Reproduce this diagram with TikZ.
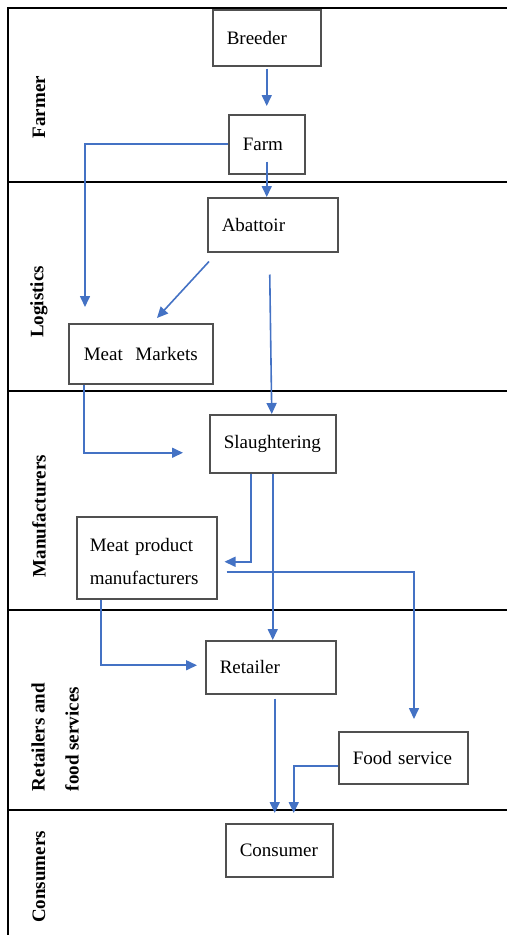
\documentclass[tikz,border=0pt]{standalone}
\usepackage{fontspec}
\setmainfont{Liberation Serif}
\usetikzlibrary{arrows.meta,calc}
\definecolor{flowblue}{HTML}{4472C4}
\definecolor{boxgray}{HTML}{505050}
\begin{document}
\begin{tikzpicture}[x=1pt,y=-1pt,
  stagebox/.style={draw=boxgray,line width=1.5pt,anchor=north west,align=left,
    inner xsep=14pt,inner ysep=0pt,font=\fontsize{19}{33}\selectfont},
  lanelabel/.style={rotate=90,align=left,font=\bfseries\fontsize{19}{34}\selectfont},
  flow/.style={draw=flowblue,line width=1.6pt,-{Triangle[length=11pt,width=10pt]}},
  lane/.style={line width=2.2pt,black}]
\useasboundingbox (0,0) rectangle (507,935);

% frame and lane separators
\draw[lane,line width=2.6pt] (8,935) -- (8,8) -- (507,8);
\foreach \yy in {182,391,610,810} \draw[lane] (8,\yy) -- (507,\yy);

% lane titles
\node[lanelabel] (lfarmer) at (39,107) {Farmer};
\node[lanelabel] (llogistics) at (39,302) {Logistics};
\node[lanelabel] (lmanuf) at (39,516) {Manufacturers};
\node[lanelabel] (lretail) at (55,737) {Retailers and\\food services};
\node[lanelabel] (lconsumer) at (39,877) {Consumers};

% stages
\node[stagebox,text width=80pt,minimum height=56pt] (breeder) at (212,9) {Breeder};
\node[stagebox,text width=48pt,minimum height=59pt] (farm) at (228,114) {Farm};
\node[stagebox,text width=102pt,minimum height=54pt] (abattoir) at (207,197) {Abattoir};
\node[stagebox,minimum height=60pt,inner xsep=15pt,text width=114pt] (markets) at (68,323) {Meat\ \ Markets};
\node[stagebox,text width=98pt,minimum height=58pt] (slaughter) at (209,414) {Slaughtering};
\node[stagebox,text width=114pt,inner xsep=13pt,minimum height=82pt] (meatprod) at (76,516) {\rule{0pt}{21pt}Meat product\\manufacturers};
\node[stagebox,text width=102pt,minimum height=53pt] (retailer) at (205,640) {Retailer};
\node[stagebox,text width=101pt,minimum height=52pt] (food) at (338,731) {Food service};
\node[stagebox,text width=79pt,minimum height=53pt] (consumer) at (225,823) {Consumer};

% flows
\draw[flow] ([yshift=-2pt]breeder.south) -- ([yshift=8pt]farm.north);
\draw[flow] ([yshift=13pt]farm.south) -- (farm.south |- abattoir.north);
\draw[flow] (farm.west) -| ([xshift=17pt,yshift=16pt]markets.north west);
\draw[flow] ([xshift=2pt,yshift=-9pt]abattoir.south west) -- ([xshift=89pt,yshift=5pt]markets.north west);
\draw[flow] ([xshift=-3pt,yshift=-22pt]abattoir.south) -- ([xshift=-1pt]slaughter.north);
\draw[flow] ([xshift=16pt]markets.south west) |- ([xshift=-26pt,yshift=-9pt]slaughter.west);
\draw[flow] ([xshift=42pt]slaughter.south west) |- ([xshift=7pt,yshift=-4pt]meatprod.east);
\draw[flow] (slaughter.south) -- (slaughter.south |- retailer.north);
\draw[flow] ([xshift=9pt,yshift=-14pt]meatprod.east) -| ([xshift=76pt,yshift=12pt]food.north west);
\draw[flow] ([xshift=25pt]meatprod.south west) |- ([xshift=-8pt,yshift=2pt]retailer.west);
\draw[flow] ([xshift=4pt,yshift=-4pt]retailer.south) -- ([xshift=-4.5pt,yshift=10pt]consumer.north);
\draw[flow] ([yshift=-8pt]food.west) -| ([xshift=14.5pt,yshift=10pt]consumer.north);
\end{tikzpicture}
\end{document}
